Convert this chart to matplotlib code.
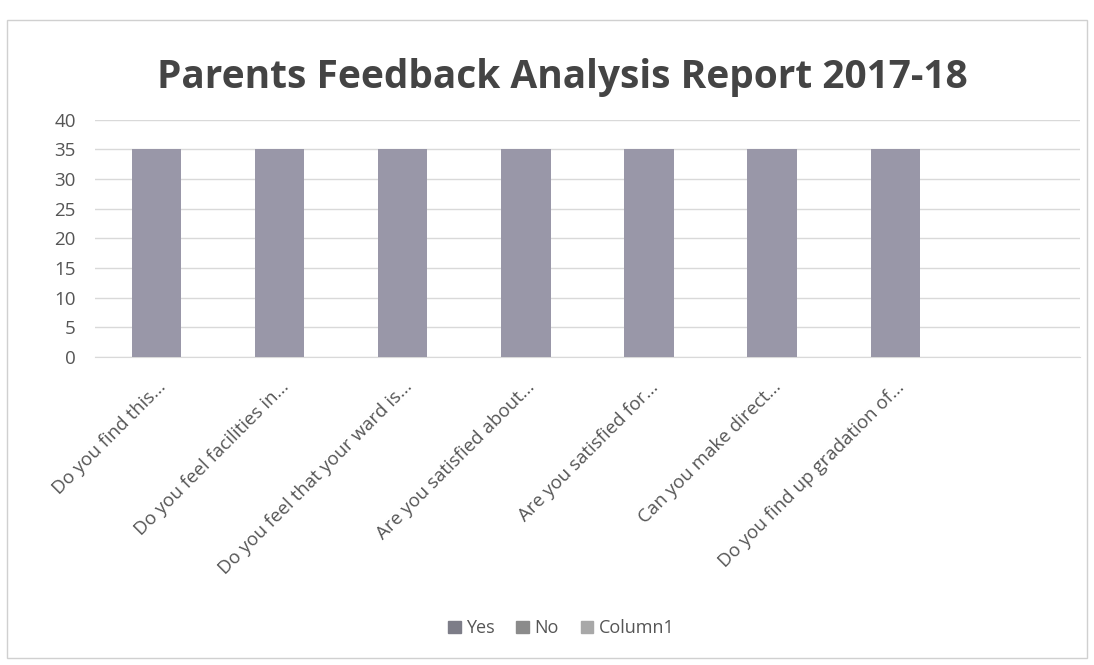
import matplotlib
matplotlib.use("Agg")
import matplotlib.pyplot as plt
from matplotlib.patches import Rectangle, Patch

categories = [
    "Do you find this...",
    "Do you feel facilities in...",
    "Do you feel that your ward is...",
    "Are you satisfied about...",
    "Are you satisfied for...",
    "Can you make direct...",
    "Do you find up gradation of...",
]
yes_vals = [35, 35, 35, 35, 35, 35, 35]
no_vals = [0, 0, 0, 0, 0, 0, 0]
col1_vals = [0, 0, 0, 0, 0, 0, 0]
series_names = ["Yes", "No", "Column1"]
yticks = [0, 5, 10, 15, 20, 25, 30, 35, 40]

plt.rcParams['font.family'] = ['Open Sans', 'DejaVu Sans']

fig = plt.figure(figsize=(10.94, 6.65), dpi=100)
fig.patches.append(Rectangle((0.006, 0.01), 0.988, 0.96, transform=fig.transFigure,
                             fill=False, edgecolor="#d0d0d0", linewidth=1))

ax = fig.add_axes([0.087, 0.463, 0.900, 0.357])
x = list(range(len(categories)))
ax.bar(x, yes_vals, width=0.4, color="#9997a8", zorder=3)
ax.set_xlim(-0.5, len(categories) + 0.5)
ax.set_ylim(0, 40)
ax.set_yticks(yticks)
ax.set_xticks(x)
ax.set_xticklabels(categories, rotation=45, ha="right", rotation_mode="anchor",
                   fontsize=13.5, color="#555555")
ax.tick_params(axis="y", labelsize=13.5, colors="#555555", length=0, pad=14)
ax.tick_params(axis="x", length=0, pad=15)
ax.grid(axis="y", color="#d9d9d9", linewidth=1, zorder=0)
for s in ["top", "right", "left"]:
    ax.spines[s].set_visible(False)
ax.spines["bottom"].set_color("#d9d9d9")

fig.text(0.514, 0.884, "Parents Feedback Analysis Report 2017-18", ha="center", va="center",
         fontsize=28, fontweight="bold", color="#444444")

handles = [Patch(color=c) for c in ["#7d7d88", "#8b8b8b", "#a8a8a8"]]
fig.legend(handles, series_names, loc="center", bbox_to_anchor=(0.513, 0.055), ncol=3,
           frameon=False, fontsize=13, handlelength=0.7, handleheight=0.7,
           columnspacing=1.2, handletextpad=0.3, labelcolor="#555555")

fig.savefig("out.png", dpi=100, facecolor="white")
